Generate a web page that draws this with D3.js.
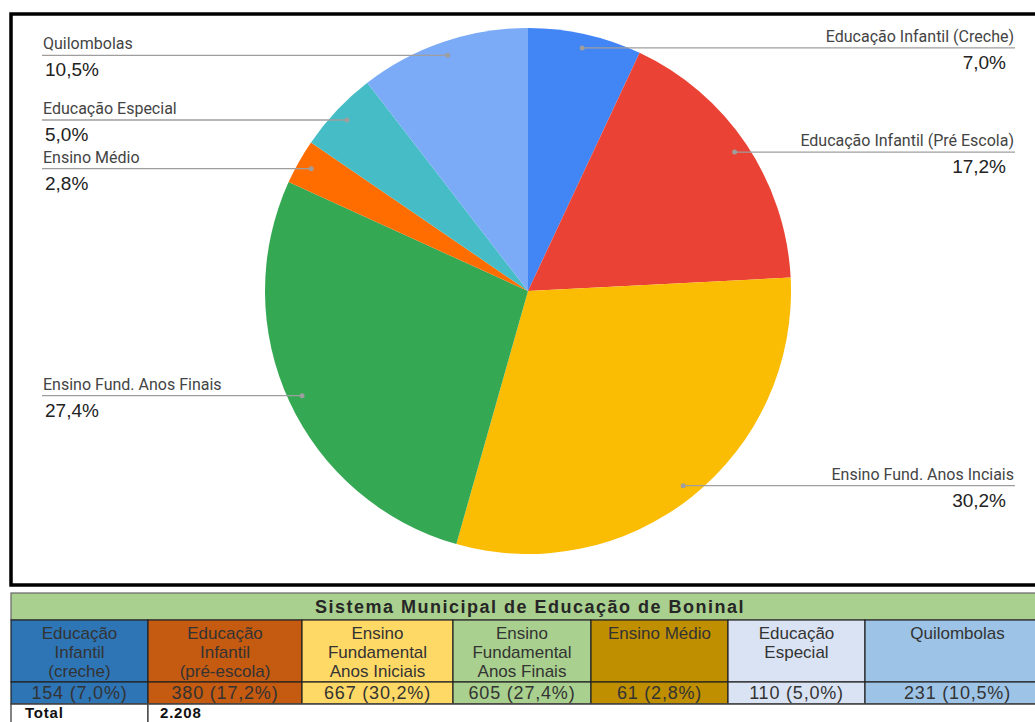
<!DOCTYPE html>
<html>
<head>
<meta charset="utf-8">
<script src="https://cdn.jsdelivr.net/npm/d3@7"></script>
<style>
  body { margin: 0; background: #fff; }
  svg { display: block; }
</style>
</head>
<body>
<div class="chart-container"></div>
<script>
// Data
const categories = ["Educação Infantil (Creche)", "Educação Infantil (Pré Escola)", "Ensino Fund. Anos Inciais",
    "Ensino Fund. Anos Finais", "Ensino Médio", "Educação Especial", "Quilombolas"];
const counts = [154, 380, 667, 605, 61, 110, 231];
const percents = ["7,0%", "17,2%", "30,2%", "27,4%", "2,8%", "5,0%", "10,5%"];
const sliceColors = ["#4285f4", "#ea4335", "#fbbc04", "#34a853", "#ff6d01", "#46bdc6", "#7baaf7"];

const tableTitle = "Sistema Municipal de Educação de Boninal";
const tableHeaders = [["Educação", "Infantil", "(creche)"], ["Educação", "Infantil", "(pré-escola)"],
    ["Ensino", "Fundamental", "Anos Iniciais"], ["Ensino", "Fundamental", "Anos Finais"],
    ["Ensino Médio"], ["Educação", "Especial"], ["Quilombolas"]];
const tableColors = ["#2e75b6", "#c55a11", "#ffd966", "#a9d08e", "#bf8f00", "#dae3f3", "#9dc3e6"];
const totalLabel = "Total";

function draw(){
    const width = 1035;
    const height = 722;

    // pie geometry
    const cx = 528, cy = 291, radius = 263;
    const labelLeft = 42, labelRight = 1015;

    const svg = d3.select('.chart-container').append("svg")
        .attr("width", width)
        .attr("height", height);

    // frame around the chart
    svg.append("rect")
        .attr("x", 11).attr("y", 14)
        .attr("width", 1040).attr("height", 571)
        .attr("fill", "#fff")
        .attr("stroke", "#000")
        .attr("stroke-width", 3.5);

    const pie = d3.pie().sort(null).value(d => d);
    const arcs = pie(counts);
    const arc = d3.arc().innerRadius(0).outerRadius(radius);
    const dotArc = d3.arc().innerRadius(249).outerRadius(249);

    const g = svg.append("g").attr("transform", `translate(${cx},${cy})`);
    g.selectAll("path")
        .data(arcs)
        .enter()
        .append("path")
        .attr("d", arc)
        .attr("fill", (d, i) => sliceColors[i]);

    // labels with leader lines
    const labels = svg.append("g");
    arcs.forEach((d, i) => {
        const c = dotArc.centroid(d);
        const px = cx + c[0], py = cy + c[1];
        const left = px < cx;
        labels.append("line")
            .attr("x1", left ? labelLeft : px).attr("x2", left ? px : labelRight)
            .attr("y1", py).attr("y2", py)
            .attr("stroke", "#9e9e9e").attr("stroke-width", 1.3);
        labels.append("circle")
            .attr("cx", px).attr("cy", py).attr("r", 2.5)
            .attr("fill", "#9e9e9e");
        labels.append("text")
            .attr("x", left ? labelLeft + 1 : labelRight - 1)
            .attr("y", py - 6)
            .attr("text-anchor", left ? "start" : "end")
            .attr("font-family", "Roboto, Arial, sans-serif")
            .attr("font-size", 16)
            .attr("fill", "#444")
            .text(categories[i]);
        labels.append("text")
            .attr("x", left ? labelLeft + 3 : labelRight - 9)
            .attr("y", py + 21)
            .attr("text-anchor", left ? "start" : "end")
            .attr("font-family", "Arial, 'Liberation Sans', sans-serif")
            .attr("font-size", 19)
            .attr("fill", "#222")
            .text(percents[i]);
    });

    // Table
    const colEdges = [11, 148, 302, 453, 591, 728, 865, 1050];
    const titleTop = 593, headTop = 620, valTop = 682, totalTop = 704, totalBottom = 740;
    const table = svg.append("g");

    table.append("rect")
        .attr("x", colEdges[0]).attr("y", titleTop)
        .attr("width", colEdges[7] - colEdges[0]).attr("height", headTop - titleTop)
        .attr("fill", "#a9d08e")
        .attr("stroke", "#666").attr("stroke-width", 1.2);
    table.append("text")
        .attr("x", 530).attr("y", titleTop + 20)
        .attr("text-anchor", "middle")
        .attr("font-family", "Arial, 'Liberation Sans', sans-serif")
        .attr("font-weight", "bold")
        .attr("font-size", 18)
        .attr("letter-spacing", 1.5)
        .attr("fill", "#262626")
        .text(tableTitle);

    tableHeaders.forEach((lines, i) => {
        const x0 = colEdges[i], x1 = colEdges[i + 1], mid = (x0 + x1) / 2;
        table.append("rect")
            .attr("x", x0).attr("y", headTop)
            .attr("width", x1 - x0).attr("height", valTop - headTop)
            .attr("fill", tableColors[i])
            .attr("stroke", "#222").attr("stroke-width", 1.2);
        table.append("rect")
            .attr("x", x0).attr("y", valTop)
            .attr("width", x1 - x0).attr("height", totalTop - valTop)
            .attr("fill", tableColors[i])
            .attr("stroke", "#222").attr("stroke-width", 1.2);
        lines.forEach((ln, j) => {
            table.append("text")
                .attr("x", mid).attr("y", headTop + 19 + j * 19)
                .attr("text-anchor", "middle")
                .attr("font-family", "Arial, 'Liberation Sans', sans-serif")
                .attr("font-size", 17)
                .attr("fill", "#333")
                .text(ln);
        });
        table.append("text")
            .attr("x", mid).attr("y", valTop + 17)
            .attr("text-anchor", "middle")
            .attr("font-family", "Arial, 'Liberation Sans', sans-serif")
            .attr("font-size", 18)
            .attr("letter-spacing", 0.8)
            .attr("fill", "#333")
            .text(`${counts[i]} (${percents[i]})`);
    });

    // Total row
    const fmt = d3.formatLocale({decimal: ",", thousands: ".", grouping: [3], currency: ["", ""]}).format(",");
    [[colEdges[0], colEdges[1], totalLabel, 25], [colEdges[1], colEdges[7] + 20, fmt(d3.sum(counts)), 160]]
        .forEach(([x0, x1, txt, tx]) => {
            table.append("rect")
                .attr("x", x0).attr("y", totalTop)
                .attr("width", x1 - x0).attr("height", totalBottom - totalTop)
                .attr("fill", "#fff")
                .attr("stroke", "#333").attr("stroke-width", 1.2);
            table.append("text")
                .attr("x", tx).attr("y", totalTop + 14)
                .attr("font-family", "Arial, 'Liberation Sans', sans-serif")
                .attr("font-weight", "bold")
                .attr("font-size", 15)
                .attr("letter-spacing", 0.8)
                .attr("fill", "#111")
                .text(txt);
        });
    // value row bottom rule in gray across the table
    table.append("line")
        .attr("x1", colEdges[0]).attr("x2", colEdges[7])
        .attr("y1", totalTop).attr("y2", totalTop)
        .attr("stroke", "#555").attr("stroke-width", 1.2);
}

draw();
</script>
</body>
</html>
